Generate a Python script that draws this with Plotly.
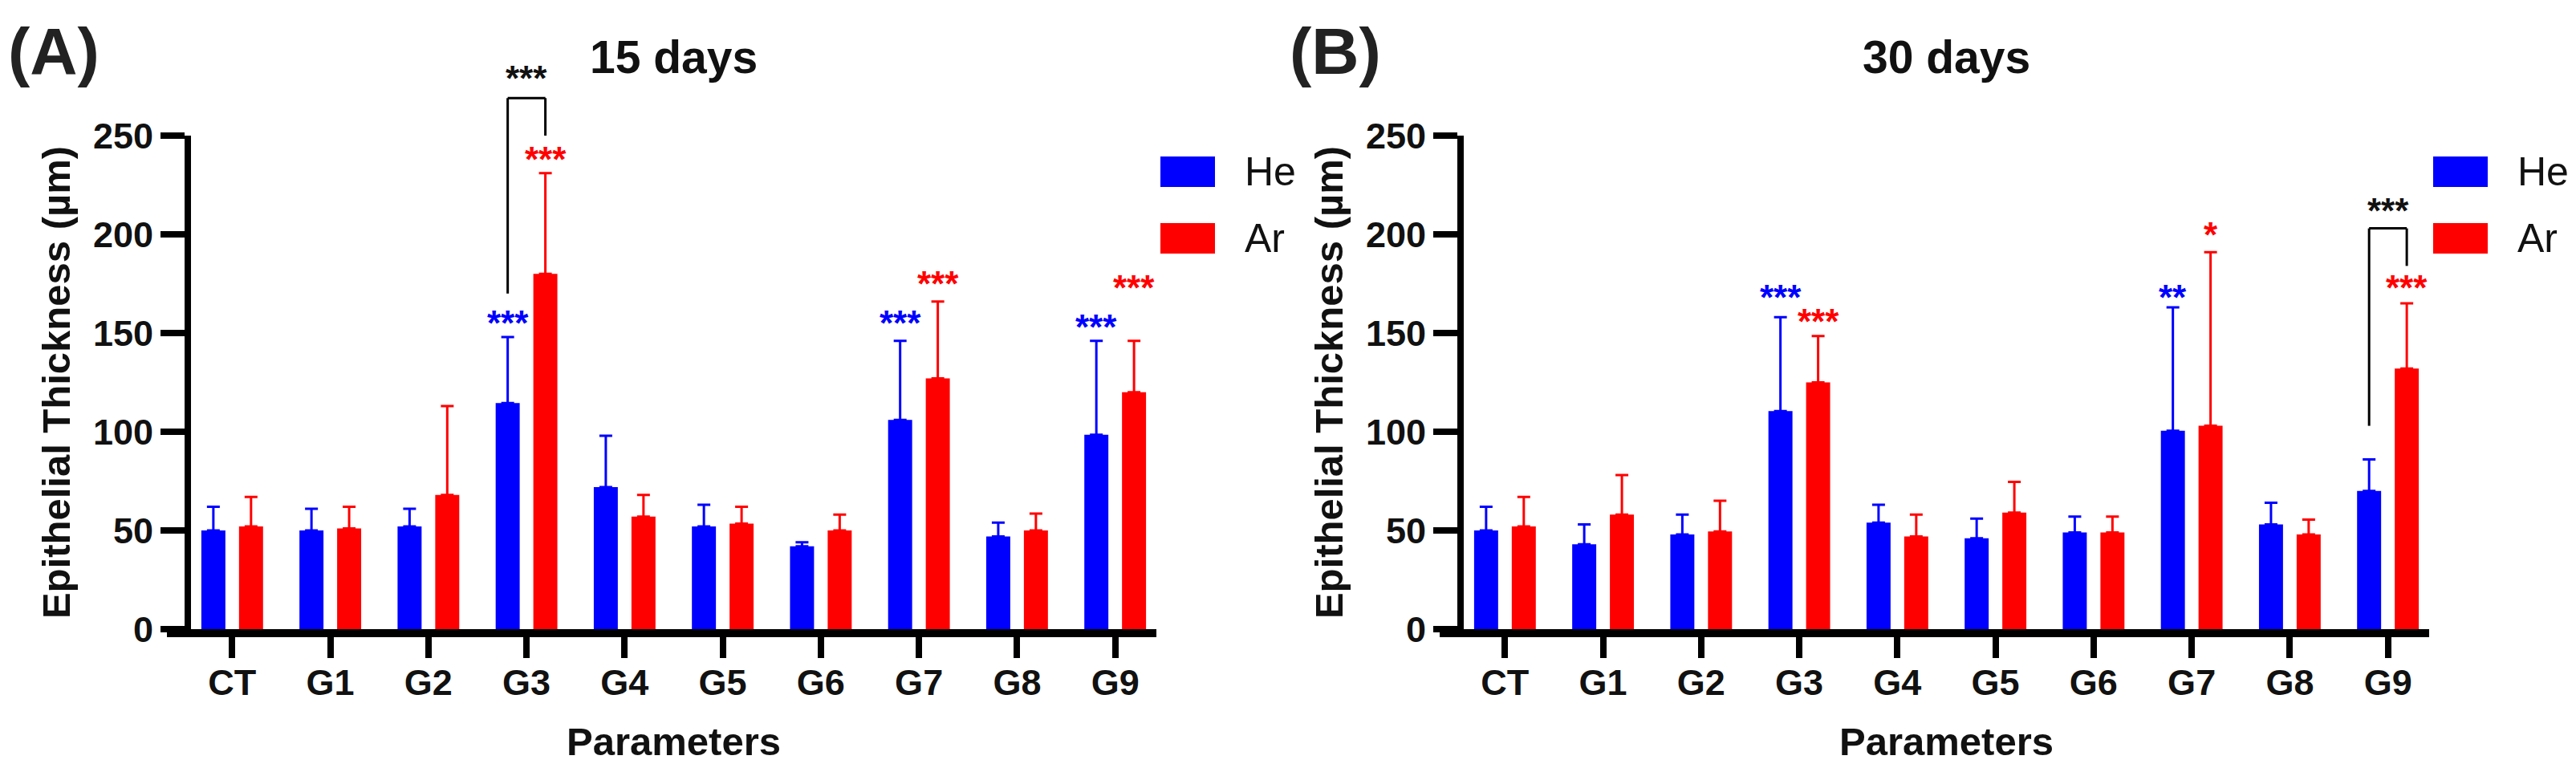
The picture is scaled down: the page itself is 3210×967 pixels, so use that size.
import plotly.graph_objects as go

groups = ["CT", "G1", "G2", "G3", "G4", "G5", "G6", "G7", "G8", "G9"]

# 15 days (mean, SD upward)
he_15 = [50, 50, 52, 114.5, 72, 52, 42, 106, 47, 98.5]
he_15_sd = [12, 11, 9, 33.5, 26, 11, 2, 40, 7, 47.5]
ar_15 = [52, 51, 68, 180, 57, 53.5, 50, 127, 50, 120]
ar_15_sd = [15, 11, 45, 51, 11, 8.5, 8, 39, 8.5, 26]

# 30 days
he_30 = [50, 43, 48, 110.5, 54, 46, 49, 100.5, 53, 70]
he_30_sd = [12, 10, 10, 47.5, 9, 10, 8, 62.5, 11, 16]
ar_30 = [52, 58, 49.5, 125, 47, 59, 49, 103, 48, 132]
ar_30_sd = [15, 20, 15.5, 23.5, 11, 15.6, 8, 88, 7.5, 33]

# significance vs CT: (group, gas, label, y)
sig_15 = [("G3", "He", "***", 157), ("G3", "Ar", "***", 240),
          ("G7", "He", "***", 157), ("G7", "Ar", "***", 177),
          ("G9", "He", "***", 155), ("G9", "Ar", "***", 175)]
sig_30 = [("G3", "He", "***", 170), ("G3", "Ar", "***", 158),
          ("G7", "He", "**", 170), ("G7", "Ar", "*", 202),
          ("G9", "Ar", "***", 175)]

# He vs Ar bracket: (group, left arm bottom, right arm bottom, top, label y)
bracket_15 = ("G3", 170, 250, 269, 281)
bracket_30 = ("G9", 103, 184, 203, 214)

W, H = 3210, 967
BLUE, RED, INK = "#0000FF", "#FF0000", "#111111"
FONT = "Liberation Sans, Arial, sans-serif"
X_RANGE = [-0.42, 9.42]
Y_MAX = 250
BARGAP, GROUPGAP = 0.232, 0.362
OFF = (1 - BARGAP) / 4  # centre offset of each bar in a group
STAR_SHIFT = -5

panels = [
    dict(title="15 days", tag="(A)", he=he_15, he_sd=he_15_sd, ar=ar_15, ar_sd=ar_15_sd,
         sig=sig_15, br=bracket_15, px=(238, 1441), tagx=67),
    dict(title="30 days", tag="(B)", he=he_30, he_sd=he_30_sd, ar=ar_30, ar_sd=ar_30_sd,
         sig=sig_30, br=bracket_30, px=(1824, 3027), tagx=1664),
]
plot_top, plot_bottom = 169, 784

fig = go.Figure()
shapes, annots = [], []


def fx(idx):
    return (idx - X_RANGE[0]) / (X_RANGE[1] - X_RANGE[0])


for i, p in enumerate(panels):
    n = "" if i == 0 else str(i + 1)
    xa, ya = "x" + n, "y" + n
    xd, yd = xa + " domain", ya + " domain"
    for name, vals, sd, col in [("He", p["he"], p["he_sd"], BLUE), ("Ar", p["ar"], p["ar_sd"], RED)]:
        fig.add_trace(go.Bar(
            x=groups, y=vals, name=name, xaxis=xa, yaxis=ya,
            marker=dict(color=col, line=dict(width=0)),
            error_y=dict(type="data", array=sd, arrayminus=[0] * len(sd), symmetric=False,
                         color=col, thickness=3, width=8),
            showlegend=False,
        ))

    dom = [p["px"][0] / W, p["px"][1] / W]
    axis_common = dict(showline=True, linecolor="black", ticks="outside", tickcolor="black",
                       showgrid=False, zeroline=False, automargin=False,
                       tickfont=dict(family=FONT, size=45, color=INK, weight="bold"))
    fig.update_layout(**{
        ("xaxis" + n): dict(axis_common, domain=dom, range=X_RANGE, linewidth=10,
                            ticklen=26, tickwidth=8, anchor=ya, ticklabelstandoff=-8,
                            title=dict(text="Parameters", standoff=36,
                                       font=dict(family=FONT, size=49, color=INK, weight="bold"))),
        ("yaxis" + n): dict(axis_common, domain=[1 - plot_bottom / H, 1 - plot_top / H],
                            range=[0, Y_MAX], tickvals=[0, 50, 100, 150, 200, 250],
                            linewidth=8, ticklen=30, tickwidth=8, anchor=xa,
                            title=dict(text="Epithelial Thickness (µm)", standoff=16,
                                       font=dict(family=FONT, size=49, color=INK, weight="bold"))),
    })

    # x axis line extends left under the y ticks
    ph = plot_bottom - plot_top
    shapes.append(dict(type="line", xref=xd, yref=yd, x0=-30 / 1203, x1=0,
                       y0=-5 / ph, y1=-5 / ph, line=dict(color="black", width=10)))

    # significance stars
    for g, gas, lab, yv in p["sig"]:
        idx = groups.index(g) + (-OFF if gas == "He" else OFF)
        annots.append(dict(x=idx, y=yv / Y_MAX, xref=xa, yref=yd, text=lab, showarrow=False,
                           yanchor="middle", yshift=STAR_SHIFT,
                           font=dict(family=FONT, size=44, weight="bold",
                                     color=BLUE if gas == "He" else RED)))

    # He vs Ar bracket
    g, lb, rb, top, ly = p["br"]
    gi = groups.index(g)
    xl, xr = fx(gi - OFF), fx(gi + OFF)
    for x0, y0, x1, y1 in [(xl, lb, xl, top), (xl, top, xr, top), (xr, top, xr, rb)]:
        shapes.append(dict(type="line", xref=xd, yref=yd, x0=x0, x1=x1,
                           y0=y0 / Y_MAX, y1=y1 / Y_MAX, line=dict(color="black", width=3)))
    annots.append(dict(x=gi, y=ly / Y_MAX, xref=xa, yref=yd, text="***", showarrow=False,
                       yanchor="middle", yshift=STAR_SHIFT,
                       font=dict(family=FONT, size=44, weight="bold", color=INK)))

    # titles
    annots.append(dict(x=(dom[0] + dom[1]) / 2, y=1 - 71 / H, xref="paper", yref="paper",
                       text=p["title"], showarrow=False, xanchor="center", yanchor="middle",
                       font=dict(family=FONT, size=57, weight="bold", color=INK)))
    annots.append(dict(x=p["tagx"] / W, y=1 - 64 / H, xref="paper", yref="paper",
                       text=p["tag"], showarrow=False, xanchor="center", yanchor="middle",
                       font=dict(family=FONT, size=82, weight="bold", color="#222222")))

    # legend swatches
    right = p["px"][1]
    for lab, col, yc in [("He", BLUE, 214), ("Ar", RED, 297)]:
        shapes.append(dict(type="rect", xref="paper", yref="paper",
                           x0=(right + 5) / W, x1=(right + 73) / W,
                           y0=1 - (yc + 19) / H, y1=1 - (yc - 19) / H,
                           fillcolor=col, line=dict(width=0)))
        annots.append(dict(x=(right + 108) / W, y=1 - yc / H, xref="paper", yref="paper",
                           text=lab, showarrow=False, xanchor="left", yanchor="middle",
                           font=dict(family=FONT, size=50, color=INK)))

fig.update_layout(
    template="none",
    width=W, height=H,
    margin=dict(l=0, r=0, t=0, b=0, pad=0),
    paper_bgcolor="white", plot_bgcolor="white",
    barmode="group", bargap=BARGAP, bargroupgap=GROUPGAP,
    shapes=shapes, annotations=annots,
    font=dict(family=FONT, color=INK),
)

fig.write_html("out.html", config={"displayModeBar": False},
               post_script="document.body.style.margin='0';document.body.style.overflow='hidden';")
